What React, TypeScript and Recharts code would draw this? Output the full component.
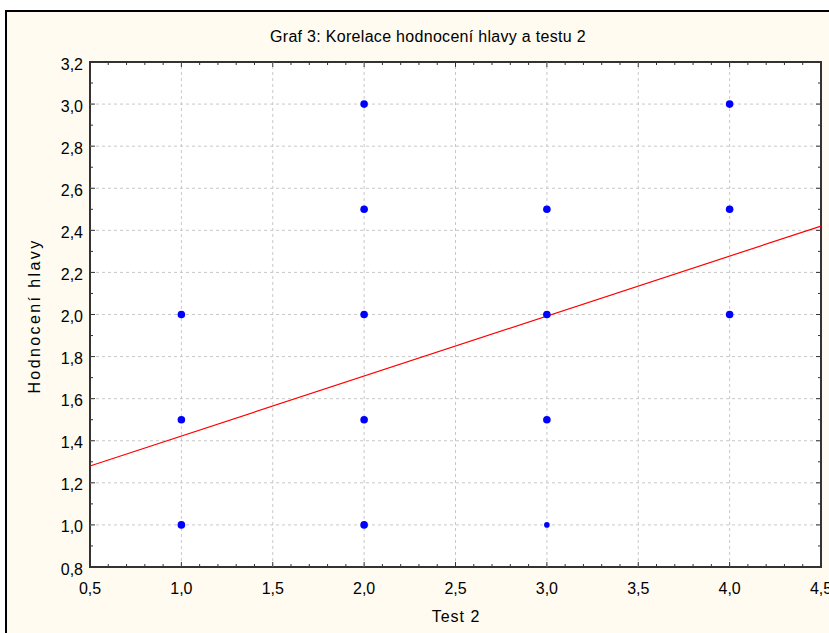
import {
  ReferenceArea,
  ReferenceLine,
  Scatter,
  ScatterChart,
  XAxis,
  YAxis,
} from "recharts";

// observations: test 2 score vs. head rating, n = how many overlap at that spot
const TEST2 = [1, 1, 1, 2, 2, 2, 2, 2, 3, 3, 3, 3, 4, 4, 4];
const HEAD = [1.0, 1.5, 2.0, 1.0, 1.5, 2.0, 2.5, 3.0, 1.0, 1.5, 2.0, 2.5, 2.0, 2.5, 3.0];
const COUNT = [3, 3, 2, 3, 2, 3, 2, 2, 1, 2, 2, 2, 3, 2, 2];

// linear fit end points
const FIT_X = [0.5, 4.5];
const FIT_Y = [1.28, 2.42];

const X_MAJOR = [0.5, 1.0, 1.5, 2.0, 2.5, 3.0, 3.5, 4.0, 4.5];
const Y_MAJOR = [0.8, 1.0, 1.2, 1.4, 1.6, 1.8, 2.0, 2.2, 2.4, 2.6, 2.8, 3.0, 3.2];
const X_TICKS = Array.from({ length: 41 }, (_, i) => Math.round(5 + i) / 10);
const Y_TICKS = Array.from({ length: 25 }, (_, i) => Math.round(8 + i) / 10);

const points = TEST2.map((x, i) => ({ x, y: HEAD[i], n: COUNT[i] }));

const W = 829;
const H = 633;
const TOP = 62;
const BOTTOM = 567;
const LEFT = 90;
const RIGHT = 821;
const FONT = "'Liberation Sans', Arial, sans-serif";
const AXIS = "#333";

const isMajor = (v: number, step: number) =>
  Math.abs(Math.round(v / step) * step - v) < 1e-6;
const fmt = (v: number) => v.toFixed(1).replace(".", ",");

const XTick = (props: any) => {
  const { x, payload } = props;
  const v = payload.value;
  const major = isMajor(v, 0.5);
  const len = major ? 5 : 3;
  return (
    <g>
      <line x1={x} x2={x} y1={BOTTOM} y2={BOTTOM - len} stroke={AXIS} />
      <line x1={x} x2={x} y1={TOP} y2={TOP + len} stroke={AXIS} />
      {major && (
        <text x={x} y={BOTTOM + 27} textAnchor="middle" fontSize={16} fill="#000" fontFamily={FONT}>
          {fmt(v)}
        </text>
      )}
    </g>
  );
};

const YTick = (props: any) => {
  const { y, payload } = props;
  const v = payload.value;
  const major = isMajor(v, 0.2);
  const len = major ? 5 : 3;
  return (
    <g>
      <line x1={LEFT} x2={LEFT + len} y1={y} y2={y} stroke={AXIS} />
      <line x1={RIGHT} x2={RIGHT - len} y1={y} y2={y} stroke={AXIS} />
      {major && (
        <text x={LEFT - 7} y={y + 7.5} textAnchor="end" fontSize={16} fill="#000" fontFamily={FONT}>
          {fmt(v)}
        </text>
      )}
    </g>
  );
};

const Dot = (props: any) => {
  const { cx, cy, payload } = props;
  const r = payload.n > 1 ? 3.8 : 2.8;
  return <circle cx={cx} cy={cy} r={r} fill="#0000ff" />;
};

export default function App() {
  return (
    <div
      style={{
        position: "absolute",
        left: 0,
        top: 0,
        width: W,
        height: H,
        overflow: "hidden",
        background: "#fff",
      }}
    >
      <div
        style={{
          position: "absolute",
          left: 5,
          top: 10,
          width: W + 20,
          height: H + 20,
          background: "#fffbf0",
          borderLeft: "2px solid #000",
          borderTop: "2px solid #000",
        }}
      />
      <div
        style={{
          position: "absolute",
          left: 0,
          top: 28,
          width: 856,
          textAlign: "center",
          fontFamily: FONT,
          fontSize: 16,
          letterSpacing: 0.3,
        }}
      >
        Graf 3: Korelace hodnocení hlavy a testu 2
      </div>
      <div
        style={{
          position: "absolute",
          left: 0,
          top: 608,
          width: 912,
          textAlign: "center",
          fontFamily: FONT,
          fontSize: 16,
          letterSpacing: 1,
        }}
      >
        Test 2
      </div>
      <div
        style={{
          position: "absolute",
          left: 35,
          top: 316,
          transform: "translate(-50%, -50%) rotate(-90deg)",
          whiteSpace: "nowrap",
          fontFamily: FONT,
          fontSize: 16,
          letterSpacing: 2.4,
        }}
      >
        Hodnocení hlavy
      </div>
      <div style={{ position: "absolute", left: 0, top: 0 }}>
        <ScatterChart
          width={W}
          height={H}
          margin={{ top: TOP, right: W - RIGHT, bottom: H - BOTTOM - 30, left: 0 }}
        >
          <XAxis
            type="number"
            dataKey="x"
            domain={[0.5, 4.5]}
            ticks={X_TICKS}
            interval={0}
            allowDataOverflow
            height={30}
            tickSize={0}
            tickMargin={0}
            axisLine={false}
            tickLine={false}
            tick={<XTick />}
          />
          <YAxis
            type="number"
            dataKey="y"
            domain={[0.8, 3.2]}
            ticks={Y_TICKS}
            interval={0}
            allowDataOverflow
            width={LEFT}
            tickSize={0}
            tickMargin={0}
            axisLine={false}
            tickLine={false}
            tick={<YTick />}
          />
          <ReferenceArea
            x1={0.5}
            x2={4.5}
            y1={0.8}
            y2={3.2}
            fill="#ffffff"
            fillOpacity={1}
            stroke="none"
          />
          {X_MAJOR.slice(1, -1).map((v) => (
            <ReferenceLine key={"vx" + v} x={v} stroke="#c8c8c8" strokeDasharray="3 3" />
          ))}
          {Y_MAJOR.slice(1, -1).map((v) => (
            <ReferenceLine key={"hy" + v} y={v} stroke="#c8c8c8" strokeDasharray="3 3" />
          ))}
          <ReferenceLine
            segment={[
              { x: FIT_X[0], y: FIT_Y[0] },
              { x: FIT_X[1], y: FIT_Y[1] },
            ]}
            stroke="#ff0000"
            strokeWidth={1.2}
          />
          <ReferenceArea
            x1={0.5}
            x2={4.5}
            y1={0.8}
            y2={3.2}
            fill="none"
            stroke={AXIS}
            strokeWidth={2}
          />
          <Scatter data={points} shape={<Dot />} isAnimationActive={false} />
        </ScatterChart>
      </div>
    </div>
  );
}
